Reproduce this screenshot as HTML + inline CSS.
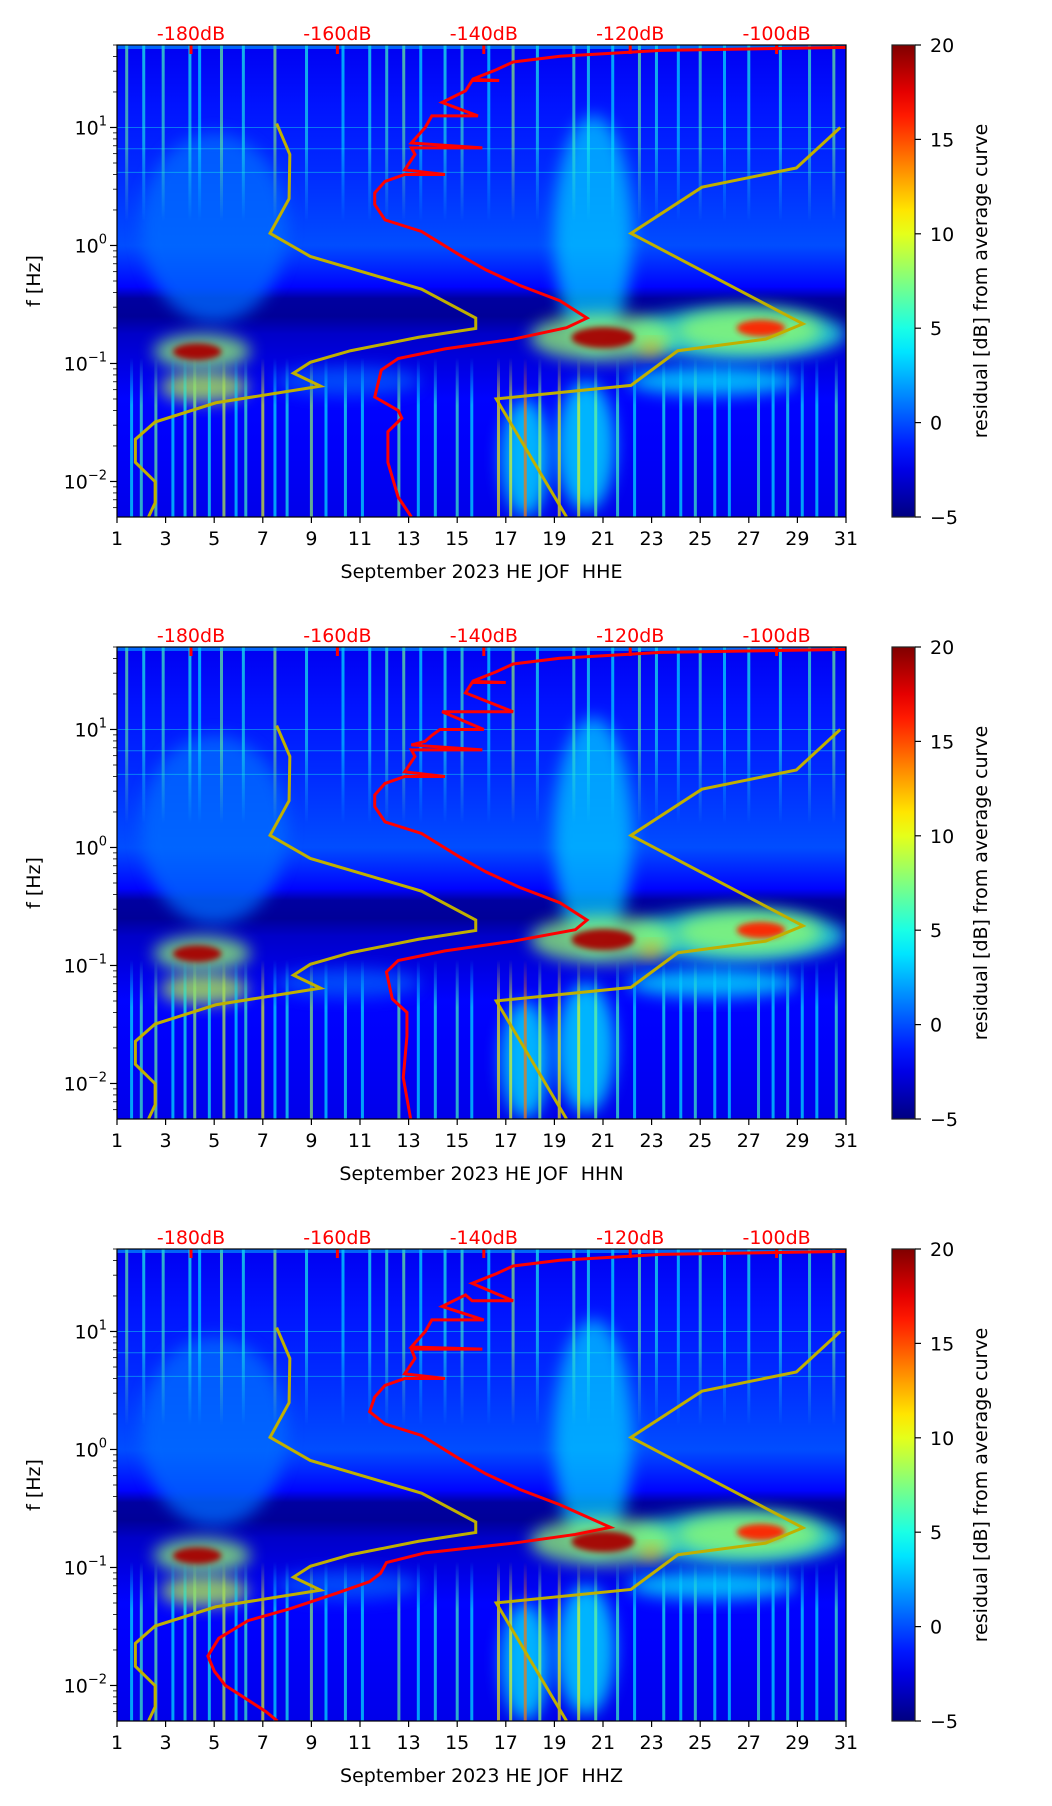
<!DOCTYPE html>
<html><head><meta charset="utf-8">
<style>
body{margin:0;background:#fff;}
svg{display:block;font-family:"DejaVu Sans","Liberation Sans",sans-serif;}
</style></head>
<body>
<svg id="fig" width="1052" height="1806" viewBox="0 0 1052 1806" xmlns="http://www.w3.org/2000/svg">
<defs>
<filter id="blur8" x="-50%" y="-50%" width="200%" height="200%"><feGaussianBlur stdDeviation="8"/></filter>
<filter id="blur3" x="-50%" y="-50%" width="200%" height="200%"><feGaussianBlur stdDeviation="3"/></filter>
<linearGradient id="cbgrad" x1="0" y1="1" x2="0" y2="0"></linearGradient>
</defs>
</svg>
<script>
// ---- data ----
const channels = ["HHE","HHN","HHZ"];
const dayTicks = [1,3,5,7,9,11,13,15,17,19,21,23,25,27,29,31];
const dbTicks = [-180,-160,-140,-120,-100];
const yDecades = [1,0,-1,-2];
const cbTicks = [-5,0,5,10,15,20];
// background level profile (residual dB) vs log10 f
const bgLogF = [1.7,1.2,0.6,0.0,-0.35,-0.45,-0.6,-0.75,-1.0,-1.3,-1.7,-2.3];
const bgLevel = [-2.2,-1.4,-0.8,0.0,-1.8,-4.2,-4.4,-3.2,-2.6,-1.8,-2.0,-2.4];
// blobs: day, log10 f, half-width (days), half-height (decades), level
const blobDay  = [5,20.6,26.5,4.6,21,27,4.5,4.3,21,27.5,23,17.8,20.3,10.5,25.5];
const blobLogF = [0.15,0.1,-0.75,-1.2,-0.78,-0.72,-0.9,-0.9,-0.78,-0.7,-0.88,-1.8,-1.7,-1.15,-1.15];
const blobRx   = [3.0,1.6,4.5,1.8,3.0,3.0,2.0,1.0,1.3,1.0,0.4,1.0,1.2,3,3.5];
const blobRy   = [0.8,1.0,0.22,0.13,0.2,0.18,0.15,0.07,0.09,0.07,0.06,0.5,0.55,0.12,0.12];
const blobLevel= [0.8,3.0,5.5,9,8,8,8,19,19,16,13,4,4,0.5,4];
// vertical streaks (upper band) : day, level
const streakDay = [1.4,2.1,2.9,4.0,4.4,5.3,6.2,7.5,8.8,10.3,11.4,12.1,12.8,13.5,14.5,15.2,16.3,17.3,18.3,19.8,20.4,21.4,22.5,23.2,24.1,25.0,26.0,27.0,28.3,29.5,30.5];
const streakLevel = [7,5,6,5,4,7,5,8,5,4,5,6,7,4,5,6,4,8,5,6,5,4,7,5,4,6,4,5,5,6,7];
// low-frequency streaks
const lowDay = [1.6,2.0,2.6,3.3,3.8,4.2,4.8,5.4,5.9,6.3,7.0,7.5,8.0,9.0,9.6,10.4,11.1,12.6,13.4,14.1,15.0,15.6,16.7,17.2,17.8,18.4,19.2,20.0,20.7,21.6,22.3,23.5,24.2,24.8,25.6,26.2,27.4,28.0,28.6,29.2,29.8,30.6];
const lowLevel = [4,6,7,4,5,8,5,9,4,6,10,4,5,8,4,5,4,7,4,5,6,4,11,10,14,8,11,10,7,6,4,5,4,6,4,4,6,4,5,4,4,6];
// noise models (same on each panel)
const nlnmDb = [-168.3,-166.5,-166.6,-169.2,-163.7,-148.5,-141.1,-141.1,-148.9,-158.2,-163.7,-166.0,-162.3,-176.6,-184.9,-187.6,-187.6,-184.9,-184.9,-185.8];
const nlnmLogF = [1.033,0.772,0.396,0.103,-0.093,-0.370,-0.615,-0.703,-0.778,-0.892,-0.990,-1.082,-1.192,-1.333,-1.496,-1.643,-1.838,-2.002,-2.181,-2.30];
const nhnmDb = [-91.3,-97.3,-110.2,-119.9,-96.4,-101.5,-113.5,-119.9,-138.3,-128.7];
const nhnmLogF = [1.0,0.657,0.494,0.103,-0.664,-0.794,-0.892,-1.186,-1.300,-2.30];
// red PSD curves per channel
const redDb1 = [-90.0,-115.8,-129.6,-136.0,-138.3,-141.6,-137.9,-141.6,-142.5,-145.7,-140.8,-146.0,-147.1,-148.0,-149.9,-140.2,-149.9,-149.4,-150.8,-145.3,-150.8,-153.5,-154.9,-154.9,-153.5,-148.5,-143.4,-139.7,-135.1,-129.6,-125.9,-128.7,-136.0,-145.3,-151.7,-154.0,-154.9,-151.7,-151.2,-153.1,-153.1,-151.7,-149.9];
const redLogF1 = [1.679,1.653,1.604,1.555,1.489,1.408,1.398,1.398,1.31,1.212,1.098,1.098,1.098,1.0,0.869,0.827,0.827,0.772,0.641,0.602,0.602,0.543,0.445,0.347,0.217,0.119,-0.077,-0.207,-0.338,-0.468,-0.615,-0.697,-0.794,-0.876,-0.958,-1.055,-1.284,-1.398,-1.463,-1.578,-1.838,-2.132,-2.30];
const redDb2 = [-90.0,-115.8,-129.6,-136.0,-138.3,-141.6,-137.0,-141.6,-142.5,-136.0,-142.5,-145.7,-140.0,-146.0,-147.1,-148.0,-149.9,-140.2,-149.9,-149.4,-150.8,-145.3,-150.8,-153.5,-154.9,-154.9,-153.5,-148.5,-143.4,-139.7,-135.1,-129.6,-125.9,-127.5,-136.0,-145.3,-151.7,-153.3,-152.5,-150.5,-150.5,-151.0,-150.0];
const redLogF2 = [1.679,1.653,1.604,1.555,1.489,1.408,1.398,1.398,1.31,1.15,1.15,1.15,1.0,1.0,0.95,0.9,0.869,0.827,0.827,0.772,0.641,0.602,0.602,0.543,0.445,0.347,0.217,0.119,-0.077,-0.207,-0.338,-0.468,-0.615,-0.697,-0.794,-0.876,-0.958,-1.055,-1.284,-1.398,-1.6,-1.95,-2.30];
const redDb3 = [-90.0,-115.8,-129.6,-136.0,-138.3,-141.6,-136.0,-141.6,-142.5,-145.7,-140.0,-146.0,-147.1,-148.0,-149.9,-140.2,-149.9,-149.4,-150.8,-145.3,-150.8,-153.5,-154.9,-155.6,-153.5,-148.5,-143.4,-139.7,-135.1,-129.6,-122.7,-127.5,-136.0,-148.0,-153.3,-154.1,-155.6,-160.2,-166.5,-172.2,-176.2,-177.7,-176.8,-175.3,-172.8,-169.8,-168.2];
const redLogF3 = [1.679,1.653,1.604,1.555,1.489,1.408,1.26,1.26,1.31,1.212,1.098,1.098,1.098,1.0,0.869,0.85,0.85,0.772,0.641,0.602,0.602,0.543,0.445,0.32,0.217,0.119,-0.077,-0.207,-0.338,-0.468,-0.66,-0.72,-0.794,-0.876,-0.958,-1.05,-1.12,-1.22,-1.35,-1.45,-1.6,-1.75,-1.88,-2.0,-2.1,-2.22,-2.30];
const redDbs = [redDb1, redDb2, redDb3];
const redLogFs = [redLogF1, redLogF2, redLogF3];

// ---- layout ----
const NS = "http://www.w3.org/2000/svg";
const svg = document.getElementById('fig');
const L = 117, R = 846, H = 472;
const panelTops = [45, 647, 1249];
const LOGTOP = 1.699, LOGBOT = -2.301;
function xDay(d){ return L + (d-1)*(R-L)/30; }
function xDb(db){ return 191 + (db+180)*7.32; }
function yF(top, lf){ return top + (LOGTOP-lf)*H/(LOGTOP-LOGBOT); }
function clamp(v){ return Math.max(0, Math.min(1, v)); }
function jet(v){
  const t = clamp((v+5)/25);
  const r = clamp(1.5-Math.abs(4*t-3)), g = clamp(1.5-Math.abs(4*t-2)), b = clamp(1.5-Math.abs(4*t-1));
  return `rgb(${Math.round(r*255)},${Math.round(g*255)},${Math.round(b*255)})`;
}
function el(tag, attrs, parent){
  const e = document.createElementNS(NS, tag);
  for (const k in attrs) e.setAttribute(k, attrs[k]);
  (parent||svg).appendChild(e);
  return e;
}
const defs = svg.querySelector('defs');
const cbg = document.getElementById('cbgrad');
for (let i=0;i<=20;i++){ const v=-5+25*i/20; el('stop',{offset:(i/20),'stop-color':jet(v)},cbg); }

channels.forEach((ch, p) => {
  const top = panelTops[p], bot = top + H;
  const g = el('g', {});
  
  
  const cp = el('clipPath', {id:'clip'+p}, defs);
  el('rect', {x:L, y:top, width:R-L, height:H}, cp);
  const gr = el('linearGradient', {id:'bg'+p, x1:0, y1:top, x2:0, y2:bot, gradientUnits:'userSpaceOnUse'}, defs);
  bgLogF.forEach((lf,i)=> el('stop',{offset:clamp((yF(top,lf)-top)/H), 'stop-color':jet(bgLevel[i])}, gr));
  // fade masks
  const mu = el('linearGradient',{id:'mu'+p,x1:0,y1:top,x2:0,y2:yF(top,0.2),gradientUnits:'userSpaceOnUse'},defs);
  el('stop',{offset:0,'stop-color':'#fff'},mu); el('stop',{offset:0.55,'stop-color':'#fff','stop-opacity':0.8},mu); el('stop',{offset:1,'stop-color':'#fff','stop-opacity':0},mu);
  const ml = el('linearGradient',{id:'ml'+p,x1:0,y1:yF(top,-0.95),x2:0,y2:bot,gradientUnits:'userSpaceOnUse'},defs);
  el('stop',{offset:0,'stop-color':'#fff','stop-opacity':0},ml); el('stop',{offset:0.3,'stop-color':'#fff','stop-opacity':0.9},ml); el('stop',{offset:1,'stop-color':'#fff','stop-opacity':0.9},ml);
  const mkU = el('mask',{id:'mku'+p,maskUnits:'userSpaceOnUse',x:L,y:top,width:R-L,height:H},defs);
  el('rect',{x:L,y:top,width:R-L,height:H,fill:`url(#mu${p})`},mkU);
  const mkL = el('mask',{id:'mkl'+p,maskUnits:'userSpaceOnUse',x:L,y:top,width:R-L,height:H},defs);
  el('rect',{x:L,y:top,width:R-L,height:H,fill:`url(#ml${p})`},mkL);

  const spec = el('g', {'clip-path':`url(#clip${p})`}, g);
  
  
  el('rect', {x:L, y:top, width:R-L, height:H, fill:`url(#bg${p})`}, spec);
  // blobs
  blobDay.forEach((d,i)=>{
    const cx = xDay(d), cy = yF(top, blobLogF[i]);
    const rx = blobRx[i]*(R-L)/30, ry = blobRy[i]*H/4;
    const b = el('ellipse', {cx:cx, cy:cy, rx:rx, ry:ry, fill:jet(blobLevel[i]), opacity:blobLevel[i]>15?0.95:0.75, filter: blobLevel[i]>15?'url(#blur3)':'url(#blur8)'}, spec);
    
    
  });
  const up = el('g',{mask:`url(#mku${p})`},spec);
  streakDay.forEach((d,i)=>{
    const s = el('rect', {x:xDay(d)-1.5, y:top, width:3, height:yF(top,0.2)-top, fill:jet(streakLevel[i]), opacity:0.7}, up);
    
    
  });
  const lo = el('g',{mask:`url(#mkl${p})`},spec);
  lowDay.forEach((d,i)=>{
    const y0 = yF(top, -0.95);
    const s = el('rect', {x:xDay(d)-1.5, y:y0, width:3, height:bot-y0, fill:jet(lowLevel[i]), opacity:0.75}, lo);
    
    
  });
  el('rect', {x:L, y:top, width:R-L, height:4, fill:jet(3), opacity:0.5}, spec);
  [1.0,0.82,0.62].forEach(lf=> el('line',{x1:L,x2:R,y1:yF(top,lf),y2:yF(top,lf),stroke:jet(5),'stroke-width':1,opacity:0.4},spec));
  dbTicks.forEach(db=>{
    el('line',{x1:xDb(db),x2:xDb(db),y1:top,y2:top+9,stroke:'#ff0000','stroke-width':3},g);
    const t = el('text',{x:xDb(db),y:top-5,'text-anchor':'middle','font-size':19,fill:'#ff0000'},g);
    t.textContent = db+'dB';
    
    
  });
  [[nlnmDb,nlnmLogF,'nlnm'],[nhnmDb,nhnmLogF,'nhnm']].forEach(([dbs,lfs,nm])=>{
    const pts = dbs.map((db,i)=>xDb(db)+','+yF(top,lfs[i])).join(' ');
    const pl = el('polyline',{points:pts,fill:'none',stroke:'#c0b000','stroke-width':3,'clip-path':`url(#clip${p})`},g);
    
    
  });
  const rd = redDbs[p], rl = redLogFs[p];
  const rpts = rd.map((db,i)=>xDb(db)+','+yF(top,rl[i])).join(' ');
  const rc = el('polyline',{points:rpts,fill:'none',stroke:'#ff0000','stroke-width':3,'clip-path':`url(#clip${p})`},g);
  
  
  el('rect',{x:L,y:top,width:R-L,height:H,fill:'none',stroke:'#000','stroke-width':1.2},g);
  dayTicks.forEach(d=>{
    el('line',{x1:xDay(d),x2:xDay(d),y1:bot,y2:bot+6,stroke:'#000','stroke-width':1.2},g);
    const t = el('text',{x:xDay(d),y:bot+28,'text-anchor':'middle','font-size':19},g);
    t.textContent = d;
    
    
  });
  const xl = el('text',{x:(L+R)/2,y:bot+61,'text-anchor':'middle','font-size':19},g);
  xl.textContent = 'September 2023 HE JOF \u00a0' + ch;
  
  
  for (let dec=-3; dec<=1; dec++){
    for (let m=1;m<10;m++){
      const lf = dec + Math.log10(m);
      if (lf > LOGTOP || lf < LOGBOT) continue;
      const y = yF(top, lf);
      el('line',{x1:L,x2:L-(m===1?7:4),y1:y,y2:y,stroke:'#000','stroke-width':m===1?1.2:0.8},g);
    }
  }
  yDecades.forEach(dec=>{
    const y = yF(top, dec);
    const t = el('text',{x:L-10,y:y+7,'text-anchor':'end','font-size':19},g);
    
    
    const a = el('tspan',{},t); a.textContent='10';
    const b = el('tspan',{dy:-9,'font-size':13},t); b.textContent = dec<0? '\u2212'+(-dec) : dec;
  });
  const yl = el('text',{x:0,y:0,'text-anchor':'middle','font-size':19,transform:`translate(40,${top+H/2}) rotate(-90)`},g);
  yl.textContent = 'f [Hz]';
  
  
  const cb = el('g',{},g);
  
  
  el('rect',{x:892,y:top,width:23,height:H,fill:'url(#cbgrad)',stroke:'#222','stroke-width':1.2},cb);
  cbTicks.forEach(v=>{
    const y = bot - (v+5)/25*H;
    el('line',{x1:915,x2:921,y1:y,y2:y,stroke:'#000','stroke-width':1.2},cb);
    const t = el('text',{x:930,y:y+7,'font-size':19},cb);
    t.textContent = v<0? '\u2212'+(-v) : v;
    
    
  });
  const ct = el('text',{x:0,y:0,'text-anchor':'middle','font-size':19,transform:`translate(987,${top+H/2}) rotate(-90)`},cb);
  ct.textContent = 'residual [dB] from average curve';
  
  
});
</script>
</body></html>
